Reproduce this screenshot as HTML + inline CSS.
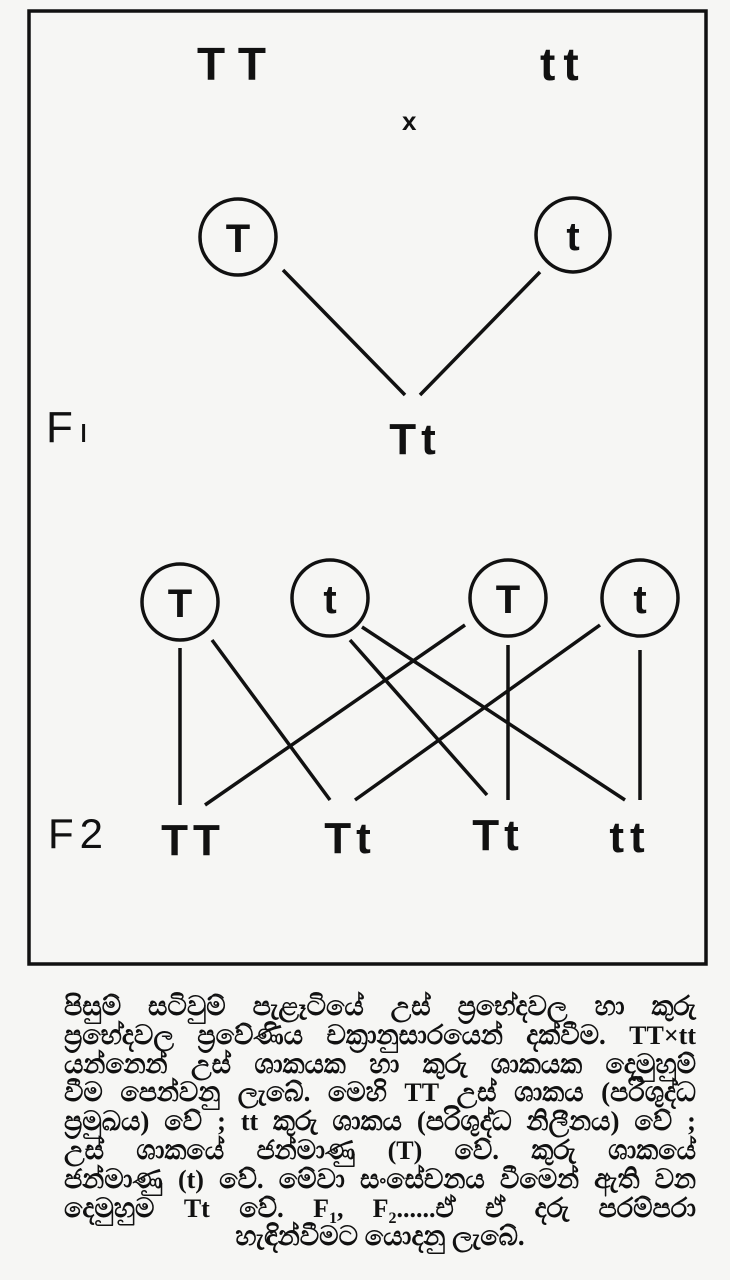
<!DOCTYPE html>
<html><head><meta charset="utf-8"><style>
body{margin:0;width:730px;height:1280px;background:#f6f6f4;overflow:hidden;position:relative;font-family:"Liberation Sans",sans-serif}
.cap{position:absolute;left:64px;top:992px;width:632px;font-family:"Liberation Serif",serif;font-weight:bold;font-size:27px;color:#111}
.cap div{height:28.8px;line-height:28.8px;text-align:justify;text-align-last:justify;white-space:nowrap}
.cap div.c{text-align:center;text-align-last:center}
.cap .l{font-size:26px}
.cap sub{font-size:16px;line-height:0}
</style></head><body>
<svg width="730" height="980" style="position:absolute;left:0;top:0" font-family="Liberation Sans, sans-serif" font-weight="bold" fill="#111">
<rect x="29" y="11" width="677" height="953" fill="none" stroke="#111" stroke-width="3.5"/>
<text x="197" y="80" font-size="46">T T</text>
<text x="540" y="80" font-size="46" letter-spacing="8">tt</text>
<text x="402" y="130" font-size="26">x</text>
<g fill="none" stroke="#111" stroke-width="3.5">
<circle cx="238" cy="237" r="38"/><circle cx="573" cy="235" r="37"/>
<line x1="283" y1="270" x2="405" y2="395"/><line x1="540" y1="272" x2="420" y2="395"/>
<circle cx="180" cy="602" r="38"/><circle cx="330" cy="598" r="38"/><circle cx="508" cy="598" r="38"/><circle cx="640" cy="598" r="38"/>
<line x1="180" y1="648" x2="180" y2="805"/>
<line x1="212" y1="640" x2="330" y2="800"/>
<line x1="465" y1="625" x2="205" y2="805"/>
<line x1="350" y1="640" x2="487" y2="795"/>
<line x1="362" y1="627" x2="625" y2="800"/>
<line x1="508" y1="645" x2="508" y2="800"/>
<line x1="600" y1="625" x2="355" y2="800"/>
<line x1="640" y1="650" x2="640" y2="800"/>
</g>
<text x="238" y="252" font-size="40" text-anchor="middle">T</text>
<text x="573" y="250" font-size="40" text-anchor="middle">t</text>
<text x="180" y="617" font-size="40" text-anchor="middle">T</text>
<text x="330" y="613" font-size="40" text-anchor="middle">t</text>
<text x="508" y="613" font-size="40" text-anchor="middle">T</text>
<text x="640" y="613" font-size="40" text-anchor="middle">t</text>
<text x="46" y="442" font-size="44" font-weight="normal">F<tspan font-size="34" dx="6">ı</tspan></text>
<text x="415" y="454" font-size="44" text-anchor="middle" letter-spacing="5">Tt</text>
<text x="48" y="848" font-size="42" font-weight="normal">F<tspan dx="6">2</tspan></text>
<text x="193" y="855" font-size="44" text-anchor="middle" letter-spacing="5">TT</text>
<text x="350" y="853" font-size="44" text-anchor="middle" letter-spacing="5">Tt</text>
<text x="498" y="850" font-size="44" text-anchor="middle" letter-spacing="5">Tt</text>
<text x="630" y="852" font-size="44" text-anchor="middle" letter-spacing="6">tt</text>
</svg>
<div class="cap">
<div>පිසුම් සටිවුම් පැළෑටියේ උස් ප්‍රභේදවල හා කුරු</div>
<div>ප්‍රභේදවල ප්‍රවේණිය චක්‍රානුසාරයෙන් දක්වීම. <span class="l">TT×tt</span></div>
<div>යන්නෙන් උස් ශාකයක හා කුරු ශාකයක දෙමුහුම්</div>
<div>වීම පෙන්වනු ලැබේ. මෙහි <span class="l">TT</span> උස් ශාකය (පරිශුද්ධ</div>
<div>ප්‍රමුඛය) වේ ; <span class="l">tt</span> කුරු ශාකය (පරිශුද්ධ නිලීනය) වේ ;</div>
<div>උස් ශාකයේ ජන්මාණු <span class="l">(T)</span> වේ. කුරු ශාකයේ</div>
<div>ජන්මාණු <span class="l">(t)</span> වේ. මේවා සංසේචනය වීමෙන් ඇති වන</div>
<div>දෙමුහුම <span class="l">Tt</span> වේ. <span class="l">F<sub>1</sub>, F<sub>2</sub>......</span>ඒ ඒ දරු පරම්පරා</div>
<div class="c">හැඳින්වීමට යොදනු ලැබේ.</div>
</div>
</body></html>
